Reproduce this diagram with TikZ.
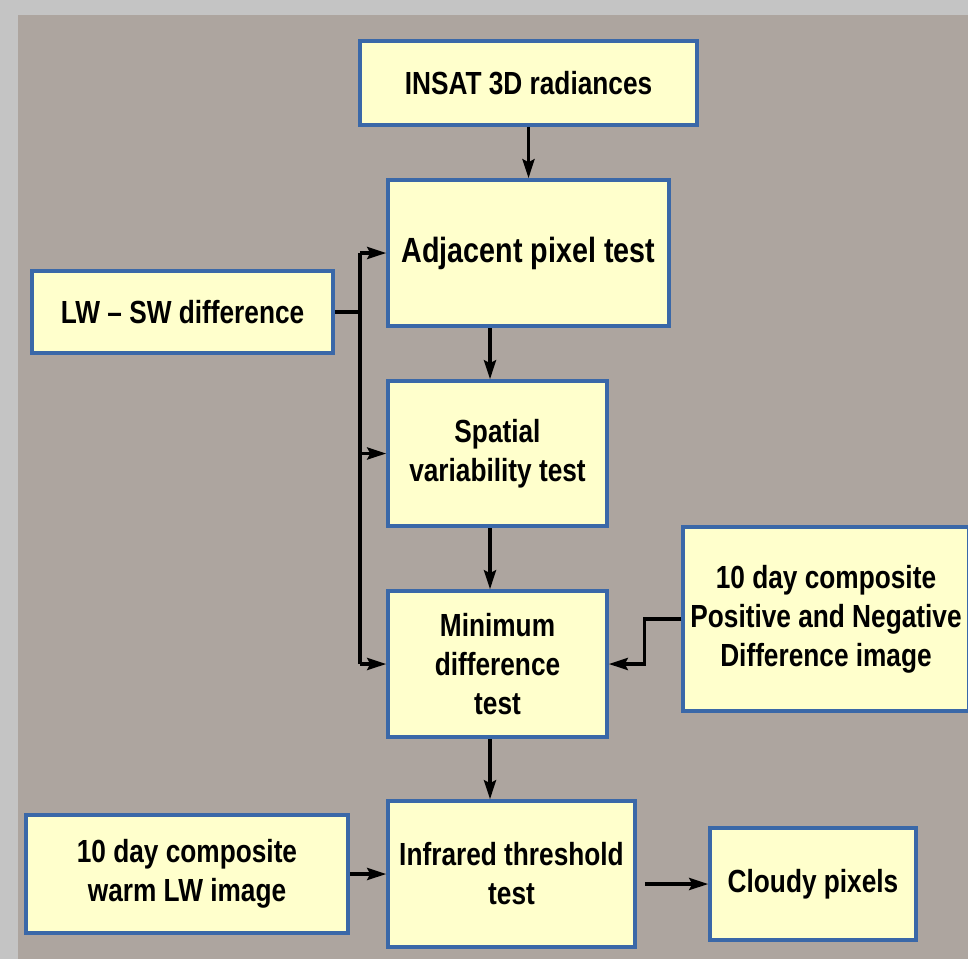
\documentclass[tikz,border=0pt]{standalone}
\usepackage{fontspec}
\setmainfont{Liberation Sans}[FakeStretch=0.82]
\usetikzlibrary{arrows.meta}
\definecolor{pagegray}{HTML}{C4C4C4}
\definecolor{slidegray}{HTML}{ADA59F}
\definecolor{boxfill}{HTML}{FFFFCC}
\definecolor{boxline}{HTML}{3A68A8}
\tikzset{
  stepbox/.style={draw=boxline, fill=boxfill, line width=3.5pt, align=center,
    inner sep=0pt, font=\bfseries\fontsize{32}{39}\selectfont},
  arr/.style={-{Stealth[length=19pt,width=12pt,inset=3pt]}, line width=3.5pt},
  wire/.style={line width=3.5pt}
}
\begin{document}
\begin{tikzpicture}[x=1pt,y=-1pt]
  \useasboundingbox (0,0) rectangle (968,959);
  \fill[pagegray] (0,0) rectangle (968,959);
  \fill[slidegray] (18,15) rectangle (968,959);
  \draw[line width=0pt, draw=none]
    (528.5,83) node[stepbox, minimum width=337pt, minimum height=84pt] (insat){INSAT 3D radiances}
    (528.5,253) node[stepbox, minimum width=281pt, minimum height=146pt,
      font=\bfseries\fontsize{35}{40}\selectfont] (adjacent){Adjacent pixel test}
    (182.5,312) node[stepbox, minimum width=301pt, minimum height=82pt] (lwsw){LW -- SW difference}
    (497.5,453.5) node[stepbox, minimum width=219pt, minimum height=145pt] (spatial){Spatial\\variability test}
    (497.5,664) node[stepbox, minimum width=219pt, minimum height=146pt] (minimum){Minimum\\difference\\test}
    (826,619) node[stepbox, minimum width=286pt, minimum height=184pt] (posneg){10 day composite\\Positive and Negative\\Difference image}
    (187,874) node[stepbox, minimum width=322pt, minimum height=118pt] (warmlw){10 day composite\\warm LW image}
    (511.5,874) node[stepbox, minimum width=247pt, minimum height=146pt] (infrared){Infrared threshold\\test}
    (813,884) node[stepbox, minimum width=206pt, minimum height=112pt] (cloudy){Cloudy pixels};
  \coordinate (col) at (490,0);
  \coordinate (bus) at (360,0);
  % main chain
  \draw[arr] (insat.south) -- (adjacent.north);
  \draw[arr] (adjacent.south -| col) -- (spatial.north -| col);
  \draw[arr] (spatial.south -| col) -- (minimum.north -| col);
  \draw[arr] (minimum.south -| col) -- (infrared.north -| col);
  % LW - SW bus
  \draw[wire] (lwsw.east) -- (lwsw.east -| bus);
  \draw[wire] (adjacent.west -| bus) -- (minimum.west -| bus);
  \draw[arr] (adjacent.west -| bus) -- (adjacent.west);
  \draw[arr] (spatial.west -| bus) -- (spatial.west);
  \draw[arr] (minimum.west -| bus) -- (minimum.west);
  % side inputs
  \draw[arr] (posneg.west) -- ++(-37,0) |- (minimum.east);
  \draw[arr] (warmlw.east) -- (infrared.west);
  \draw[arr] ([xshift=8pt]infrared.east |- cloudy.west) -- (cloudy.west);
\end{tikzpicture}
\end{document}
